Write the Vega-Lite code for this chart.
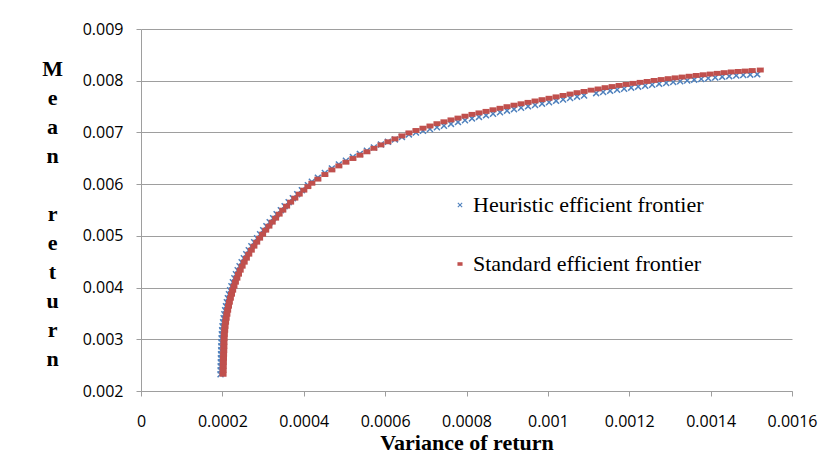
{
  "$schema": "https://vega.github.io/schema/vega-lite/v6.json",
  "width": 651,
  "height": 362,
  "autosize": "none",
  "padding": {"left": 141, "top": 29, "right": 42, "bottom": 66},
  "background": "white",
  "config": {
    "view": {"stroke": null},
    "axis": {
      "domainColor": "#9E9E9E",
      "tickColor": "#9E9E9E",
      "gridColor": "#9E9E9E",
      "domainWidth": 1,
      "tickWidth": 1,
      "gridWidth": 1,
      "tickSize": 5,
      "labelFont": "Open Sans",
      "labelFontSize": 16,
      "labelColor": "#000000",
      "titleFont": "Liberation Serif",
      "titleFontSize": 22,
      "titleFontWeight": "bold",
      "titleColor": "#000000"
    }
  },
  "data": {
    "values": [
      {"series": "Heuristic efficient frontier", "variance": 0.0001955, "mean": 0.0023230},
      {"series": "Heuristic efficient frontier", "variance": 0.0001958, "mean": 0.0024004},
      {"series": "Heuristic efficient frontier", "variance": 0.0001960, "mean": 0.0024778},
      {"series": "Heuristic efficient frontier", "variance": 0.0001963, "mean": 0.0025553},
      {"series": "Heuristic efficient frontier", "variance": 0.0001965, "mean": 0.0026327},
      {"series": "Heuristic efficient frontier", "variance": 0.0001968, "mean": 0.0027101},
      {"series": "Heuristic efficient frontier", "variance": 0.0001972, "mean": 0.0027875},
      {"series": "Heuristic efficient frontier", "variance": 0.0001975, "mean": 0.0028649},
      {"series": "Heuristic efficient frontier", "variance": 0.0001977, "mean": 0.0029423},
      {"series": "Heuristic efficient frontier", "variance": 0.0001982, "mean": 0.0030197},
      {"series": "Heuristic efficient frontier", "variance": 0.0001987, "mean": 0.0030972},
      {"series": "Heuristic efficient frontier", "variance": 0.0001995, "mean": 0.0031746},
      {"series": "Heuristic efficient frontier", "variance": 0.0002004, "mean": 0.0032520},
      {"series": "Heuristic efficient frontier", "variance": 0.0002017, "mean": 0.0033294},
      {"series": "Heuristic efficient frontier", "variance": 0.0002031, "mean": 0.0034068},
      {"series": "Heuristic efficient frontier", "variance": 0.0002049, "mean": 0.0034842},
      {"series": "Heuristic efficient frontier", "variance": 0.0002068, "mean": 0.0035616},
      {"series": "Heuristic efficient frontier", "variance": 0.0002088, "mean": 0.0036391},
      {"series": "Heuristic efficient frontier", "variance": 0.0002110, "mean": 0.0037165},
      {"series": "Heuristic efficient frontier", "variance": 0.0002135, "mean": 0.0037939},
      {"series": "Heuristic efficient frontier", "variance": 0.0002162, "mean": 0.0038713},
      {"series": "Heuristic efficient frontier", "variance": 0.0002191, "mean": 0.0039487},
      {"series": "Heuristic efficient frontier", "variance": 0.0002223, "mean": 0.0040261},
      {"series": "Heuristic efficient frontier", "variance": 0.0002258, "mean": 0.0041035},
      {"series": "Heuristic efficient frontier", "variance": 0.0002295, "mean": 0.0041810},
      {"series": "Heuristic efficient frontier", "variance": 0.0002334, "mean": 0.0042584},
      {"series": "Heuristic efficient frontier", "variance": 0.0002376, "mean": 0.0043358},
      {"series": "Heuristic efficient frontier", "variance": 0.0002423, "mean": 0.0044132},
      {"series": "Heuristic efficient frontier", "variance": 0.0002474, "mean": 0.0044906},
      {"series": "Heuristic efficient frontier", "variance": 0.0002528, "mean": 0.0045680},
      {"series": "Heuristic efficient frontier", "variance": 0.0002587, "mean": 0.0046454},
      {"series": "Heuristic efficient frontier", "variance": 0.0002649, "mean": 0.0047229},
      {"series": "Heuristic efficient frontier", "variance": 0.0002713, "mean": 0.0048003},
      {"series": "Heuristic efficient frontier", "variance": 0.0002782, "mean": 0.0048777},
      {"series": "Heuristic efficient frontier", "variance": 0.0002853, "mean": 0.0049551},
      {"series": "Heuristic efficient frontier", "variance": 0.0002927, "mean": 0.0050325},
      {"series": "Heuristic efficient frontier", "variance": 0.0003003, "mean": 0.0051099},
      {"series": "Heuristic efficient frontier", "variance": 0.0003082, "mean": 0.0051873},
      {"series": "Heuristic efficient frontier", "variance": 0.0003163, "mean": 0.0052648},
      {"series": "Heuristic efficient frontier", "variance": 0.0003247, "mean": 0.0053422},
      {"series": "Heuristic efficient frontier", "variance": 0.0003333, "mean": 0.0054196},
      {"series": "Heuristic efficient frontier", "variance": 0.0003437, "mean": 0.0054970},
      {"series": "Heuristic efficient frontier", "variance": 0.0003530, "mean": 0.0055744},
      {"series": "Heuristic efficient frontier", "variance": 0.0003629, "mean": 0.0056518},
      {"series": "Heuristic efficient frontier", "variance": 0.0003732, "mean": 0.0057292},
      {"series": "Heuristic efficient frontier", "variance": 0.0003840, "mean": 0.0058067},
      {"series": "Heuristic efficient frontier", "variance": 0.0003953, "mean": 0.0058841},
      {"series": "Heuristic efficient frontier", "variance": 0.0004101, "mean": 0.0059809},
      {"series": "Heuristic efficient frontier", "variance": 0.0004199, "mean": 0.0060466},
      {"series": "Heuristic efficient frontier", "variance": 0.0004347, "mean": 0.0061260},
      {"series": "Heuristic efficient frontier", "variance": 0.0004519, "mean": 0.0062150},
      {"series": "Heuristic efficient frontier", "variance": 0.0004691, "mean": 0.0063041},
      {"series": "Heuristic efficient frontier", "variance": 0.0004863, "mean": 0.0063815},
      {"series": "Heuristic efficient frontier", "variance": 0.0005036, "mean": 0.0064531},
      {"series": "Heuristic efficient frontier", "variance": 0.0005208, "mean": 0.0065227},
      {"series": "Heuristic efficient frontier", "variance": 0.0005380, "mean": 0.0065847},
      {"series": "Heuristic efficient frontier", "variance": 0.0005552, "mean": 0.0066466},
      {"series": "Heuristic efficient frontier", "variance": 0.0005724, "mean": 0.0067085},
      {"series": "Heuristic efficient frontier", "variance": 0.0005897, "mean": 0.0067666},
      {"series": "Heuristic efficient frontier", "variance": 0.0006069, "mean": 0.0068189},
      {"series": "Heuristic efficient frontier", "variance": 0.0006241, "mean": 0.0068653},
      {"series": "Heuristic efficient frontier", "variance": 0.0006413, "mean": 0.0069137},
      {"series": "Heuristic efficient frontier", "variance": 0.0006585, "mean": 0.0069621},
      {"series": "Heuristic efficient frontier", "variance": 0.0006758, "mean": 0.0069988},
      {"series": "Heuristic efficient frontier", "variance": 0.0006930, "mean": 0.0070337},
      {"series": "Heuristic efficient frontier", "variance": 0.0007102, "mean": 0.0070666},
      {"series": "Heuristic efficient frontier", "variance": 0.0007274, "mean": 0.0071014},
      {"series": "Heuristic efficient frontier", "variance": 0.0007446, "mean": 0.0071285},
      {"series": "Heuristic efficient frontier", "variance": 0.0007619, "mean": 0.0071653},
      {"series": "Heuristic efficient frontier", "variance": 0.0007791, "mean": 0.0072001},
      {"series": "Heuristic efficient frontier", "variance": 0.0007963, "mean": 0.0072369},
      {"series": "Heuristic efficient frontier", "variance": 0.0008135, "mean": 0.0072717},
      {"series": "Heuristic efficient frontier", "variance": 0.0008307, "mean": 0.0073007},
      {"series": "Heuristic efficient frontier", "variance": 0.0008480, "mean": 0.0073298},
      {"series": "Heuristic efficient frontier", "variance": 0.0008652, "mean": 0.0073608},
      {"series": "Heuristic efficient frontier", "variance": 0.0008824, "mean": 0.0073898},
      {"series": "Heuristic efficient frontier", "variance": 0.0008996, "mean": 0.0074207},
      {"series": "Heuristic efficient frontier", "variance": 0.0009168, "mean": 0.0074498},
      {"series": "Heuristic efficient frontier", "variance": 0.0009341, "mean": 0.0074769},
      {"series": "Heuristic efficient frontier", "variance": 0.0009513, "mean": 0.0075040},
      {"series": "Heuristic efficient frontier", "variance": 0.0009685, "mean": 0.0075311},
      {"series": "Heuristic efficient frontier", "variance": 0.0009857, "mean": 0.0075562},
      {"series": "Heuristic efficient frontier", "variance": 0.0010029, "mean": 0.0075833},
      {"series": "Heuristic efficient frontier", "variance": 0.0010202, "mean": 0.0076104},
      {"series": "Heuristic efficient frontier", "variance": 0.0010374, "mean": 0.0076375},
      {"series": "Heuristic efficient frontier", "variance": 0.0010546, "mean": 0.0076646},
      {"series": "Heuristic efficient frontier", "variance": 0.0010718, "mean": 0.0076917},
      {"series": "Heuristic efficient frontier", "variance": 0.0010890, "mean": 0.0077149},
      {"series": "Heuristic efficient frontier", "variance": 0.0011186, "mean": 0.0077594},
      {"series": "Heuristic efficient frontier", "variance": 0.0011358, "mean": 0.0077827},
      {"series": "Heuristic efficient frontier", "variance": 0.0011530, "mean": 0.0078040},
      {"series": "Heuristic efficient frontier", "variance": 0.0011702, "mean": 0.0078252},
      {"series": "Heuristic efficient frontier", "variance": 0.0011874, "mean": 0.0078446},
      {"series": "Heuristic efficient frontier", "variance": 0.0012047, "mean": 0.0078659},
      {"series": "Heuristic efficient frontier", "variance": 0.0012219, "mean": 0.0078852},
      {"series": "Heuristic efficient frontier", "variance": 0.0012391, "mean": 0.0079027},
      {"series": "Heuristic efficient frontier", "variance": 0.0012563, "mean": 0.0079220},
      {"series": "Heuristic efficient frontier", "variance": 0.0012735, "mean": 0.0079394},
      {"series": "Heuristic efficient frontier", "variance": 0.0012908, "mean": 0.0079568},
      {"series": "Heuristic efficient frontier", "variance": 0.0013080, "mean": 0.0079743},
      {"series": "Heuristic efficient frontier", "variance": 0.0013252, "mean": 0.0079897},
      {"series": "Heuristic efficient frontier", "variance": 0.0013424, "mean": 0.0080052},
      {"series": "Heuristic efficient frontier", "variance": 0.0013596, "mean": 0.0080207},
      {"series": "Heuristic efficient frontier", "variance": 0.0013769, "mean": 0.0080343},
      {"series": "Heuristic efficient frontier", "variance": 0.0013941, "mean": 0.0080478},
      {"series": "Heuristic efficient frontier", "variance": 0.0014113, "mean": 0.0080614},
      {"series": "Heuristic efficient frontier", "variance": 0.0014285, "mean": 0.0080749},
      {"series": "Heuristic efficient frontier", "variance": 0.0014457, "mean": 0.0080885},
      {"series": "Heuristic efficient frontier", "variance": 0.0014630, "mean": 0.0081000},
      {"series": "Heuristic efficient frontier", "variance": 0.0014802, "mean": 0.0081097},
      {"series": "Heuristic efficient frontier", "variance": 0.0014974, "mean": 0.0081175},
      {"series": "Heuristic efficient frontier", "variance": 0.0015146, "mean": 0.0081233},
      {"series": "Standard efficient frontier", "variance": 0.0002017, "mean": 0.0023230},
      {"series": "Standard efficient frontier", "variance": 0.0002020, "mean": 0.0024004},
      {"series": "Standard efficient frontier", "variance": 0.0002022, "mean": 0.0024778},
      {"series": "Standard efficient frontier", "variance": 0.0002025, "mean": 0.0025553},
      {"series": "Standard efficient frontier", "variance": 0.0002027, "mean": 0.0026327},
      {"series": "Standard efficient frontier", "variance": 0.0002030, "mean": 0.0027101},
      {"series": "Standard efficient frontier", "variance": 0.0002034, "mean": 0.0027875},
      {"series": "Standard efficient frontier", "variance": 0.0002037, "mean": 0.0028649},
      {"series": "Standard efficient frontier", "variance": 0.0002039, "mean": 0.0029423},
      {"series": "Standard efficient frontier", "variance": 0.0002044, "mean": 0.0030197},
      {"series": "Standard efficient frontier", "variance": 0.0002049, "mean": 0.0030972},
      {"series": "Standard efficient frontier", "variance": 0.0002057, "mean": 0.0031746},
      {"series": "Standard efficient frontier", "variance": 0.0002066, "mean": 0.0032520},
      {"series": "Standard efficient frontier", "variance": 0.0002079, "mean": 0.0033294},
      {"series": "Standard efficient frontier", "variance": 0.0002093, "mean": 0.0034068},
      {"series": "Standard efficient frontier", "variance": 0.0002111, "mean": 0.0034842},
      {"series": "Standard efficient frontier", "variance": 0.0002130, "mean": 0.0035616},
      {"series": "Standard efficient frontier", "variance": 0.0002150, "mean": 0.0036391},
      {"series": "Standard efficient frontier", "variance": 0.0002172, "mean": 0.0037165},
      {"series": "Standard efficient frontier", "variance": 0.0002197, "mean": 0.0037939},
      {"series": "Standard efficient frontier", "variance": 0.0002224, "mean": 0.0038713},
      {"series": "Standard efficient frontier", "variance": 0.0002253, "mean": 0.0039487},
      {"series": "Standard efficient frontier", "variance": 0.0002285, "mean": 0.0040261},
      {"series": "Standard efficient frontier", "variance": 0.0002320, "mean": 0.0041035},
      {"series": "Standard efficient frontier", "variance": 0.0002357, "mean": 0.0041810},
      {"series": "Standard efficient frontier", "variance": 0.0002396, "mean": 0.0042584},
      {"series": "Standard efficient frontier", "variance": 0.0002438, "mean": 0.0043358},
      {"series": "Standard efficient frontier", "variance": 0.0002485, "mean": 0.0044132},
      {"series": "Standard efficient frontier", "variance": 0.0002536, "mean": 0.0044906},
      {"series": "Standard efficient frontier", "variance": 0.0002590, "mean": 0.0045680},
      {"series": "Standard efficient frontier", "variance": 0.0002649, "mean": 0.0046454},
      {"series": "Standard efficient frontier", "variance": 0.0002711, "mean": 0.0047229},
      {"series": "Standard efficient frontier", "variance": 0.0002775, "mean": 0.0048003},
      {"series": "Standard efficient frontier", "variance": 0.0002844, "mean": 0.0048777},
      {"series": "Standard efficient frontier", "variance": 0.0002915, "mean": 0.0049551},
      {"series": "Standard efficient frontier", "variance": 0.0002989, "mean": 0.0050325},
      {"series": "Standard efficient frontier", "variance": 0.0003065, "mean": 0.0051099},
      {"series": "Standard efficient frontier", "variance": 0.0003144, "mean": 0.0051873},
      {"series": "Standard efficient frontier", "variance": 0.0003225, "mean": 0.0052648},
      {"series": "Standard efficient frontier", "variance": 0.0003309, "mean": 0.0053422},
      {"series": "Standard efficient frontier", "variance": 0.0003395, "mean": 0.0054196},
      {"series": "Standard efficient frontier", "variance": 0.0003486, "mean": 0.0054970},
      {"series": "Standard efficient frontier", "variance": 0.0003579, "mean": 0.0055744},
      {"series": "Standard efficient frontier", "variance": 0.0003678, "mean": 0.0056518},
      {"series": "Standard efficient frontier", "variance": 0.0003781, "mean": 0.0057292},
      {"series": "Standard efficient frontier", "variance": 0.0003889, "mean": 0.0058067},
      {"series": "Standard efficient frontier", "variance": 0.0004002, "mean": 0.0058841},
      {"series": "Standard efficient frontier", "variance": 0.0004101, "mean": 0.0059518},
      {"series": "Standard efficient frontier", "variance": 0.0004199, "mean": 0.0060176},
      {"series": "Standard efficient frontier", "variance": 0.0004347, "mean": 0.0060970},
      {"series": "Standard efficient frontier", "variance": 0.0004519, "mean": 0.0061860},
      {"series": "Standard efficient frontier", "variance": 0.0004691, "mean": 0.0062750},
      {"series": "Standard efficient frontier", "variance": 0.0004863, "mean": 0.0063524},
      {"series": "Standard efficient frontier", "variance": 0.0005036, "mean": 0.0064240},
      {"series": "Standard efficient frontier", "variance": 0.0005208, "mean": 0.0064956},
      {"series": "Standard efficient frontier", "variance": 0.0005380, "mean": 0.0065595},
      {"series": "Standard efficient frontier", "variance": 0.0005552, "mean": 0.0066253},
      {"series": "Standard efficient frontier", "variance": 0.0005724, "mean": 0.0066931},
      {"series": "Standard efficient frontier", "variance": 0.0005897, "mean": 0.0067588},
      {"series": "Standard efficient frontier", "variance": 0.0006069, "mean": 0.0068189},
      {"series": "Standard efficient frontier", "variance": 0.0006241, "mean": 0.0068750},
      {"series": "Standard efficient frontier", "variance": 0.0006413, "mean": 0.0069330},
      {"series": "Standard efficient frontier", "variance": 0.0006585, "mean": 0.0069911},
      {"series": "Standard efficient frontier", "variance": 0.0006758, "mean": 0.0070375},
      {"series": "Standard efficient frontier", "variance": 0.0006930, "mean": 0.0070821},
      {"series": "Standard efficient frontier", "variance": 0.0007102, "mean": 0.0071246},
      {"series": "Standard efficient frontier", "variance": 0.0007274, "mean": 0.0071691},
      {"series": "Standard efficient frontier", "variance": 0.0007446, "mean": 0.0072059},
      {"series": "Standard efficient frontier", "variance": 0.0007619, "mean": 0.0072427},
      {"series": "Standard efficient frontier", "variance": 0.0007791, "mean": 0.0072775},
      {"series": "Standard efficient frontier", "variance": 0.0007963, "mean": 0.0073143},
      {"series": "Standard efficient frontier", "variance": 0.0008135, "mean": 0.0073491},
      {"series": "Standard efficient frontier", "variance": 0.0008307, "mean": 0.0073782},
      {"series": "Standard efficient frontier", "variance": 0.0008480, "mean": 0.0074072},
      {"series": "Standard efficient frontier", "variance": 0.0008652, "mean": 0.0074382},
      {"series": "Standard efficient frontier", "variance": 0.0008824, "mean": 0.0074672},
      {"series": "Standard efficient frontier", "variance": 0.0008996, "mean": 0.0074982},
      {"series": "Standard efficient frontier", "variance": 0.0009168, "mean": 0.0075272},
      {"series": "Standard efficient frontier", "variance": 0.0009341, "mean": 0.0075543},
      {"series": "Standard efficient frontier", "variance": 0.0009513, "mean": 0.0075814},
      {"series": "Standard efficient frontier", "variance": 0.0009685, "mean": 0.0076085},
      {"series": "Standard efficient frontier", "variance": 0.0009857, "mean": 0.0076336},
      {"series": "Standard efficient frontier", "variance": 0.0010029, "mean": 0.0076607},
      {"series": "Standard efficient frontier", "variance": 0.0010202, "mean": 0.0076878},
      {"series": "Standard efficient frontier", "variance": 0.0010374, "mean": 0.0077149},
      {"series": "Standard efficient frontier", "variance": 0.0010546, "mean": 0.0077420},
      {"series": "Standard efficient frontier", "variance": 0.0010718, "mean": 0.0077691},
      {"series": "Standard efficient frontier", "variance": 0.0010890, "mean": 0.0077923},
      {"series": "Standard efficient frontier", "variance": 0.0011063, "mean": 0.0078175},
      {"series": "Standard efficient frontier", "variance": 0.0011235, "mean": 0.0078407},
      {"series": "Standard efficient frontier", "variance": 0.0011407, "mean": 0.0078659},
      {"series": "Standard efficient frontier", "variance": 0.0011579, "mean": 0.0078872},
      {"series": "Standard efficient frontier", "variance": 0.0011751, "mean": 0.0079085},
      {"series": "Standard efficient frontier", "variance": 0.0011924, "mean": 0.0079278},
      {"series": "Standard efficient frontier", "variance": 0.0012096, "mean": 0.0079491},
      {"series": "Standard efficient frontier", "variance": 0.0012268, "mean": 0.0079685},
      {"series": "Standard efficient frontier", "variance": 0.0012440, "mean": 0.0079859},
      {"series": "Standard efficient frontier", "variance": 0.0012612, "mean": 0.0080052},
      {"series": "Standard efficient frontier", "variance": 0.0012785, "mean": 0.0080227},
      {"series": "Standard efficient frontier", "variance": 0.0012957, "mean": 0.0080401},
      {"series": "Standard efficient frontier", "variance": 0.0013129, "mean": 0.0080555},
      {"series": "Standard efficient frontier", "variance": 0.0013301, "mean": 0.0080710},
      {"series": "Standard efficient frontier", "variance": 0.0013473, "mean": 0.0080865},
      {"series": "Standard efficient frontier", "variance": 0.0013646, "mean": 0.0081020},
      {"series": "Standard efficient frontier", "variance": 0.0013818, "mean": 0.0081155},
      {"series": "Standard efficient frontier", "variance": 0.0013990, "mean": 0.0081291},
      {"series": "Standard efficient frontier", "variance": 0.0014162, "mean": 0.0081426},
      {"series": "Standard efficient frontier", "variance": 0.0014334, "mean": 0.0081562},
      {"series": "Standard efficient frontier", "variance": 0.0014507, "mean": 0.0081697},
      {"series": "Standard efficient frontier", "variance": 0.0014679, "mean": 0.0081794},
      {"series": "Standard efficient frontier", "variance": 0.0014851, "mean": 0.0081871},
      {"series": "Standard efficient frontier", "variance": 0.0015023, "mean": 0.0081968},
      {"series": "Standard efficient frontier", "variance": 0.0015220, "mean": 0.0082065}
    ]
  },
  "mark": {"type": "point", "filled": true, "opacity": 1, "strokeWidth": 0, "size": 49},
  "encoding": {
    "x": {
      "field": "variance",
      "type": "quantitative",
      "scale": {"domain": [0, 0.0016], "nice": false, "zero": false},
      "axis": {
        "values": [0, 0.0002, 0.0004, 0.0006, 0.0008, 0.001, 0.0012, 0.0014, 0.0016],
        "labelExpr": "datum.value + ''",
        "grid": false,
        "labelPadding": 17,
        "labelFlush": false,
        "labelOverlap": false,
        "title": "Variance of return",
        "titleBaseline": "alphabetic",
        "titleY": 58
      }
    },
    "y": {
      "field": "mean",
      "type": "quantitative",
      "scale": {"domain": [0.002, 0.009], "nice": false, "zero": false},
      "axis": {
        "values": [0.002, 0.003, 0.004, 0.005, 0.006, 0.007, 0.008, 0.009],
        "labelExpr": "datum.value + ''",
        "grid": true,
        "labelPadding": 13,
        "labelFlush": false,
        "labelOverlap": false,
        "title": ["M", "e", "a", "n", "\u200b", "r", "e", "t", "u", "r", "n"],
        "titleAngle": 0,
        "titleAlign": "center",
        "titleBaseline": "middle",
        "titleLineHeight": 29,
        "titleX": -89,
        "titleY": 39
      }
    },
    "color": {
      "field": "series",
      "type": "nominal",
      "scale": {
        "domain": ["Heuristic efficient frontier", "Standard efficient frontier"],
        "range": ["#4F81BD", "#C0504D"]
      },
      "legend": {
        "title": null,
        "orient": "none",
        "legendX": 308,
        "legendY": 165,
        "padding": 0,
        "rowPadding": 37,
        "labelFont": "Liberation Serif",
        "labelFontSize": 22,
        "labelColor": "#000000",
        "labelOffset": 2,
        "symbolSize": 26,
        "symbolStrokeWidth": 0,
        "labelLimit": 400
      }
    },
    "shape": {
      "field": "series",
      "type": "nominal",
      "scale": {
        "domain": ["Heuristic efficient frontier", "Standard efficient frontier"],
        "range": [
          "M-1,-0.7L-0.7,-1L0,-0.3L0.7,-1L1,-0.7L0.3,0L1,0.7L0.7,1L0,0.3L-0.7,1L-1,0.7L-0.3,0Z",
          "M-1,-0.7H1V0.7H-1Z"
        ]
      }
    }
  }
}
